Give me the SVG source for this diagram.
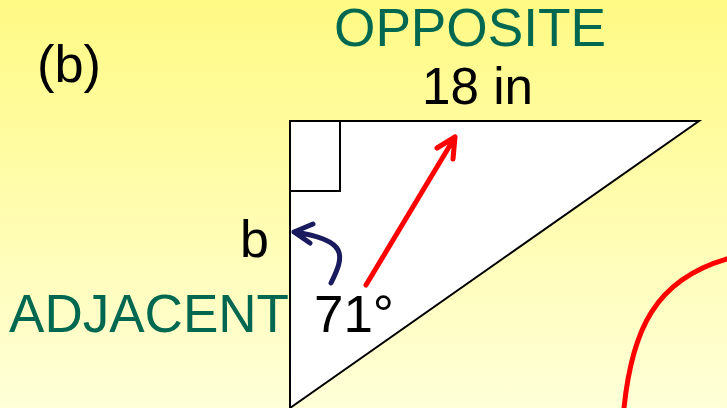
<svg xmlns="http://www.w3.org/2000/svg" width="727" height="408" viewBox="0 0 727 408">
<defs>
<linearGradient id="bg" x1="0" y1="0" x2="0" y2="1">
<stop offset="0" stop-color="#FFFA84"/>
<stop offset="1" stop-color="#FFFFD8"/>
</linearGradient>
<style>
.t{font-family:"Liberation Sans",Arial,sans-serif;font-size:52px;fill:#000}
.g{fill:#006850;font-size:54px}
.shape{fill:#fff;stroke:#000;stroke-width:2}
</style>
</defs>
<rect width="727" height="408" fill="url(#bg)"/>
<g id="triangle">
<polygon class="shape" points="290,121 699,121 290,408"/>
<rect class="shape" x="290" y="121" width="50" height="70" fill="none"/>
</g>
<g id="labels">
<text class="t" x="37" y="82" textLength="64" lengthAdjust="spacingAndGlyphs">(b)</text>
<text class="t g" x="334" y="46" textLength="272" lengthAdjust="spacingAndGlyphs">OPPOSITE</text>
<text class="t" x="422" y="104" textLength="111" lengthAdjust="spacingAndGlyphs">18 in</text>
<text class="t" x="240" y="257">b</text>
<text class="t g" x="9" y="332" textLength="280" lengthAdjust="spacingAndGlyphs">ADJACENT</text>
<text class="t" x="314" y="332" textLength="80" lengthAdjust="spacingAndGlyphs">71°</text>
</g>
<g id="connectors" fill="none" stroke-linecap="round" stroke-linejoin="round">
<path d="M366,285 L455,137 M437,148 L455,137 L453,159" stroke="#FF0000" stroke-width="5"/>
<path d="M331,283 C345,255 348,240 294,232 M313,224 L294,232 L310,243" stroke="#1A1A5E" stroke-width="5"/>
<path d="M624,408 C632,330 655,280 727,259" stroke="#FF0000" stroke-width="5"/>
</g>
</svg>
